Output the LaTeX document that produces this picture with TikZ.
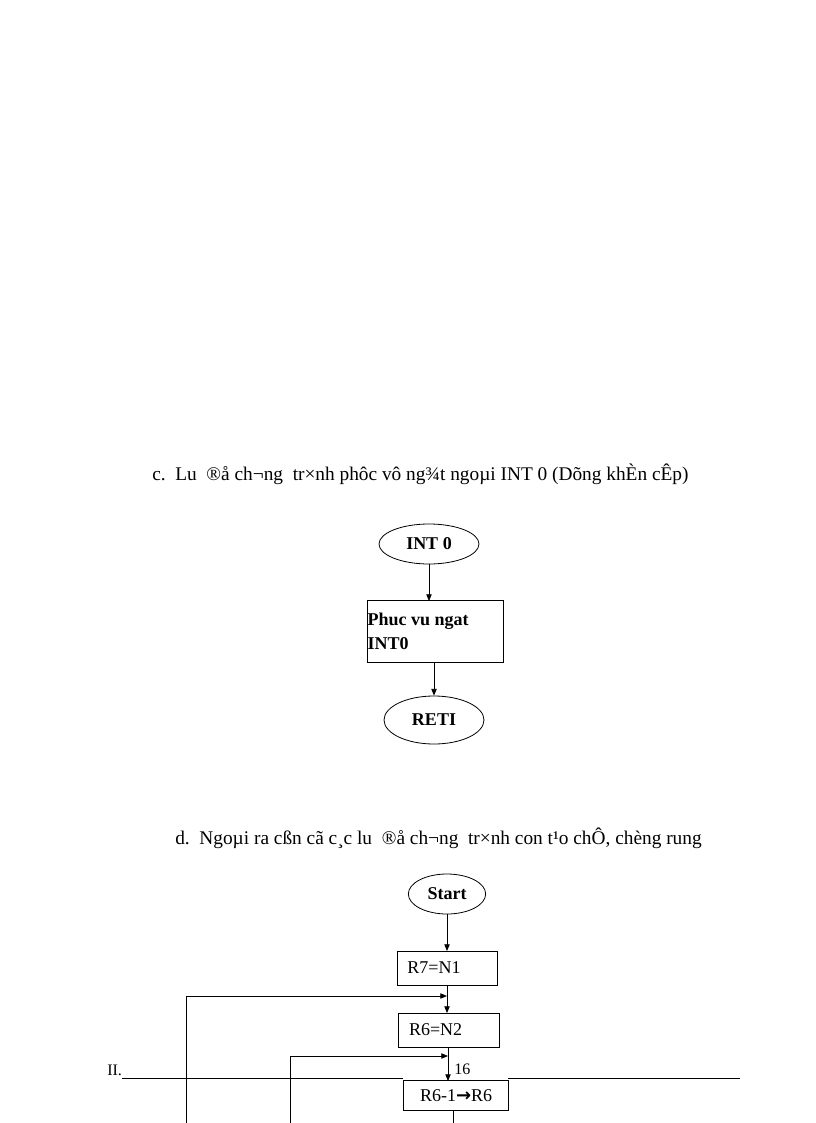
\documentclass[tikz,border=0pt]{standalone}
\usepackage{fontspec}
\setmainfont{Liberation Serif}
\newfontfamily\dv{DejaVu Sans}
\usetikzlibrary{shapes.geometric,arrows.meta}
\begin{document}
\begin{tikzpicture}[x=0.75pt,y=-0.75pt,
  ln/.style={line width=0.6pt},
  arr/.style={ln,-{Triangle[length=5pt,width=4pt]}},
  ov/.style={ellipse,draw,ln,inner sep=0,font=\bfseries\fontsize{13.5}{16}\selectfont},
  bx/.style={rectangle,draw,ln,inner sep=0,font=\fontsize{13.5}{16}\selectfont},
  tt/.style={anchor=west,inner sep=0,font=\fontsize{14.5}{17}\selectfont}]
\useasboundingbox (0,0) rectangle (816,1123);
\node[tt] (tc) at (152,474) {c.\ \ Lu \ ®å ch¬ng\ \ tr×nh phôc vô ng¾t ngoµi INT 0 (Dõng khÈn cÊp)};
\node[ov,minimum width=75pt,minimum height=30pt] (int) at (429,544) {INT 0};
\node[bx,minimum width=102pt,minimum height=46pt,align=left,font=\bfseries\fontsize{13.5}{18}\selectfont] (phuc) at (435,631.5) {Phuc vu ngat\\INT0\hspace*{5.2em}};
\node[ov,minimum width=75pt,minimum height=36pt] (reti) at (434,720) {RETI};
\draw[arr] (int.south) -- (429,601);
\draw[arr] (434,662) -- (reti.north);
\node[tt] (td) at (175,838) {d.\ \ Ngoµi ra cßn cã c¸c lu \ ®å ch¬ng\ \ tr×nh con t¹o chÔ, chèng rung};
\node[ov,minimum width=58pt,minimum height=30pt] (start) at (447,894) {Start};
\node[bx,minimum width=75pt,minimum height=25.5pt,anchor=west,align=left,text width=60pt] (r7) at (397,968) {R7=N1};
\node[bx,minimum width=76pt,minimum height=25.5pt,anchor=west,align=left,text width=60pt] (r6) at (398,1030) {R6=N2};
\node[bx,minimum width=79pt,minimum height=22pt,anchor=west] (r61) at (403,1095.5) {R6-1{\dv\bfseries →}R6};
\draw[arr] (start.south) -- (447,951);
\draw[arr] (447,985) -- (447,1013);
\draw[arr] (448,1047) -- (448,1081);
\coordinate (l1) at (186,1123);
\coordinate (l2) at (290,1123);
\draw[arr] (l1) -- (186,996) -- (447,996);
\draw[arr] (l2) -- (290,1056) -- (448,1056);
\draw[ln] (453,1110) -- (453,1123);
\node[tt,font=\fontsize{12}{14}\selectfont] (n16) at (454,1069) {16};
\node[tt,font=\fontsize{12}{14}\selectfont] (ii) at (107,1070) {II.};
\draw[ln] (122,1078) -- (403,1078) (508,1078) -- (740,1078);
\end{tikzpicture}
\end{document}
